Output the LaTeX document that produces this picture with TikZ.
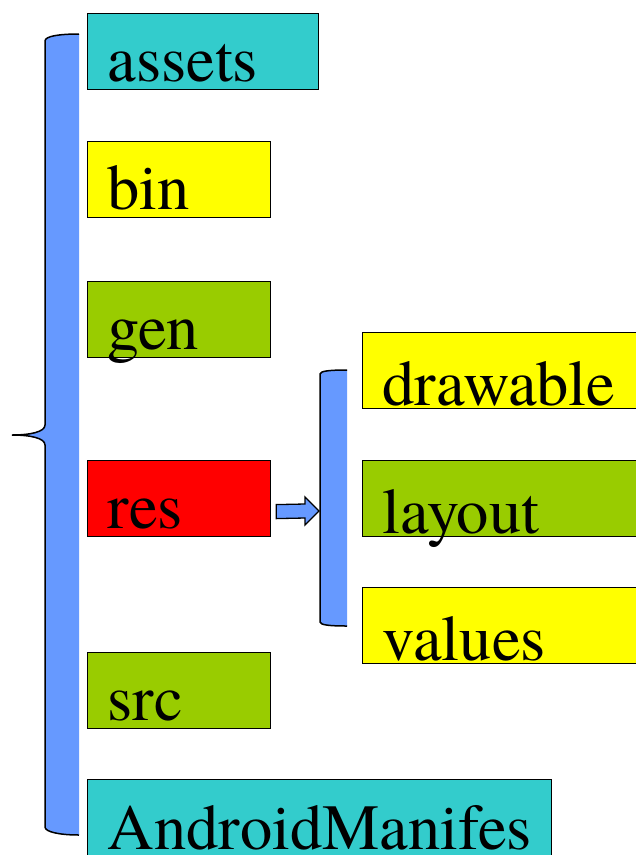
\documentclass[tikz,border=0pt]{standalone}
\usepackage{fontspec}
\setmainfont{TeX Gyre Termes}
\usepackage{tikz}
\usetikzlibrary{calc}
\definecolor{dircyan}{HTML}{33CCCC}
\definecolor{diryellow}{HTML}{FFFF00}
\definecolor{dirgreen}{HTML}{99CC00}
\definecolor{dirred}{HTML}{FF0000}
\definecolor{braceblue}{HTML}{6699FF}

\begin{document}
\begin{tikzpicture}[
    x=1pt, y=-1pt,
    dir/.style={rectangle, draw=black, line width=1.2pt, anchor=north west, inner xsep=20pt, inner ysep=0pt, align=left, font=\fontsize{64.5}{64}\selectfont},
    leftdir/.style={dir, text height=68pt, text depth=8pt, text width=143pt},
    rightdir/.style={dir, text height=73pt, text depth=3pt, text width=250pt},
    bracefill/.style={fill=braceblue},
    braceline/.style={draw=black, line width=1.5pt},
    blockarrow/.style={fill=braceblue, draw=black, line width=1.3pt, line join=miter}
]
\path[use as bounding box] (0,0) rectangle (636,855);
\clip (0,0) rectangle (636,855);

% Big brace
\fill[bracefill] (79,34) .. controls (60,34) and (45,36) .. (45,41) -- (45,425)
    .. controls (45,432) and (30,435) .. (12,435) .. controls (30,435) and (45,438) .. (45,445)
    -- (45,827) .. controls (45,832) and (60,835) .. (79,835) -- cycle;
\draw[braceline] (79,34) .. controls (60,34) and (45,36) .. (45,41) -- (45,425)
    .. controls (45,432) and (30,435) .. (12,435) .. controls (30,435) and (45,438) .. (45,445)
    -- (45,827) .. controls (45,832) and (60,835) .. (79,835);

% Folders
\node[leftdir, fill=dircyan, text width=191pt] (assets) at (87,13) {assets};
\node[leftdir, fill=diryellow] (bin) at (87,141) {bin};
\node[leftdir, fill=dirgreen] (gen) at (87,281) {gen};
\node[leftdir, fill=dirred] (res) at (87,460) {res};
\node[leftdir, fill=dirgreen] (src) at (87,652) {src};
\node[leftdir, fill=dircyan, text width=424pt, text height=70pt, text depth=6pt] (manifest) at (87,779) {AndroidManifes};

% Small brace
\fill[bracefill] (347,370) .. controls (330,370) and (320,371) .. (320,374) -- (320,622)
    .. controls (320,625) and (330,626) .. (347,626) -- cycle;
\draw[braceline] (347,370) .. controls (330,370) and (320,371) .. (320,374) -- (320,622)
    .. controls (320,625) and (330,626) .. (347,626);

% Sub folders
\node[rightdir, fill=diryellow] (drawable) at (362,332) {drawable};
\node[rightdir, fill=dirgreen] (layout) at (362,460) {layout};
\node[rightdir, fill=diryellow] (values) at (362,587) {values};

% Arrow
\coordinate (arrs) at ($(res.east)+(5,13)$);
\coordinate (arre) at (319,511);
\draw[blockarrow] ($(arrs)+(0,-7)$) -- ($(arre)+(-14,-7)$) -- ($(arre)+(-14,-14)$) -- (arre)
    -- ($(arre)+(-14,14)$) -- ($(arre)+(-14,7)$) -- ($(arrs)+(0,7)$) -- cycle;

\end{tikzpicture}
\end{document}
